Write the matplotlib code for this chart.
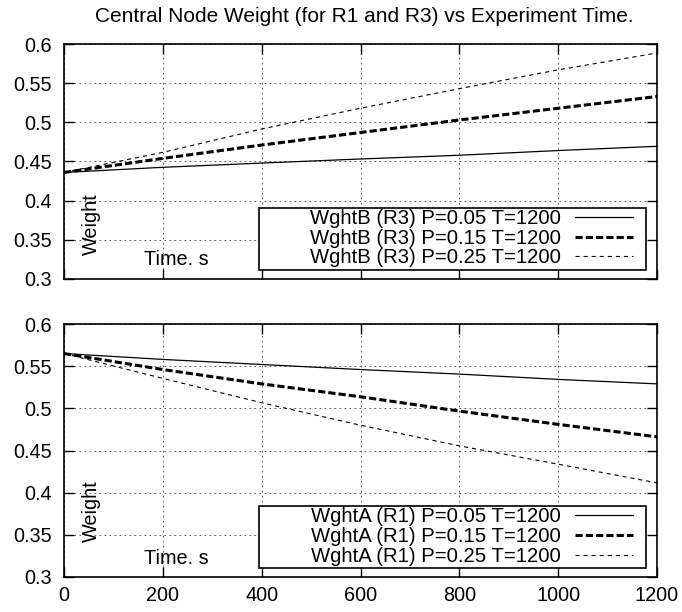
import matplotlib
matplotlib.use("Agg")
import matplotlib.pyplot as plt
from matplotlib.patches import Rectangle
from matplotlib.lines import Line2D

plt.rcParams['font.family'] = ['Liberation Sans', 'DejaVu Sans']
plt.rcParams['lines.scale_dashes'] = False

# data
time_s = [0, 200, 400, 600, 800, 1000, 1200]

wght_b_005 = [0.436, 0.4426, 0.448, 0.4532, 0.458, 0.464, 0.4694]
wght_b_015 = [0.436, 0.454, 0.471, 0.487, 0.503, 0.518, 0.533]
wght_b_025 = [0.436, 0.4617, 0.4915, 0.518, 0.543, 0.567, 0.5885]

wght_a_005 = [0.565, 0.558, 0.552, 0.546, 0.5406, 0.5343, 0.529]
wght_a_015 = [0.565, 0.546, 0.529, 0.5137, 0.4967, 0.481, 0.4662]
wght_a_025 = [0.565, 0.5355, 0.5066, 0.480, 0.4555, 0.4338, 0.4116]

labels_b = ["WghtB (R3) P=0.05 T=1200", "WghtB (R3) P=0.15 T=1200", "WghtB (R3) P=0.25 T=1200"]
labels_a = ["WghtA (R1) P=0.05 T=1200", "WghtA (R1) P=0.15 T=1200", "WghtA (R1) P=0.25 T=1200"]

x_ticks = [0, 200, 400, 600, 800, 1000, 1200]
y_ticks = [0.3, 0.35, 0.4, 0.45, 0.5, 0.55, 0.6]
y_ticklabels = ["0.3", "0.35", "0.4", "0.45", "0.5", "0.55", "0.6"]

FS = 14.3
KEY_FS = 14.6
W, H = 682, 612
AX_W = 593

styles = [
    dict(color="black", linewidth=0.9, linestyle="-"),
    dict(color="black", linewidth=2.2, linestyle=(0, (5.2, 2.2))),
    dict(color="black", linewidth=0.8, linestyle=(0, (3.0, 2.8))),
]


def draw_panel(ax, ax_h, series, labels, show_xlabels, weight_off):
    fx = lambda px: px / AX_W
    fy = lambda py: py / ax_h
    for s, lab, st in zip(series, labels, styles):
        ax.plot(time_s, s, label=lab, **st)
    ax.set_xlim(0, 1200)
    ax.set_ylim(0.3, 0.6)
    ax.set_xticks(x_ticks)
    ax.set_yticks(y_ticks)
    ax.set_yticklabels(y_ticklabels)
    if not show_xlabels:
        ax.set_xticklabels([])
    ax.tick_params(direction="in", length=7, width=1.0, top=True, right=True, labelsize=FS)
    ax.tick_params(axis="y", pad=9.0)
    ax.tick_params(axis="x", pad=6.5)
    ax.grid(True, color="0.35", linewidth=0.7, linestyle=(0, (1.2, 2.4)))
    for sp in ax.spines.values():
        sp.set_linewidth(1.2)
    # in-plot axis captions, gnuplot style
    ax.text(fx(27), fy(weight_off), "Weight", rotation=90, ha="center", va="bottom",
            fontsize=FS, transform=ax.transAxes)
    ax.text(fx(80), fy(13.5), "Time. s", ha="left", va="baseline",
            fontsize=FS, transform=ax.transAxes)
    # key box
    ax.add_patch(Rectangle((fx(195), fy(9)), fx(582 - 195), fy(71) - fy(9),
                           transform=ax.transAxes, facecolor="white", edgecolor="black",
                           linewidth=1.2, zorder=4))
    rows = [55, 35, 15.5]
    for lab, st, r in zip(labels, styles, rows):
        ax.text(fx(AX_W - 96), fy(r), lab, ha="right", va="baseline", fontsize=KEY_FS,
                transform=ax.transAxes, zorder=5)
        ax.add_line(Line2D([fx(AX_W - 82), fx(AX_W - 24)], [fy(r + 7), fy(r + 7)],
                           transform=ax.transAxes, zorder=5, **st))


fig = plt.figure(figsize=(W / 100, H / 100), dpi=100)
ax_top = fig.add_axes([64 / W, 1 - 279 / H, AX_W / W, 235 / H])
ax_bot = fig.add_axes([64 / W, 1 - 577 / H, AX_W / W, 253 / H])

draw_panel(ax_top, 235, [wght_b_005, wght_b_015, wght_b_025], labels_b, False, 24)
draw_panel(ax_bot, 253, [wght_a_005, wght_a_015, wght_a_025], labels_a, True, 35)

fig.text(364 / W, 1 - 21.7 / H, "Central Node Weight (for R1 and R3) vs Experiment Time.",
         ha="center", va="baseline", fontsize=15)

fig.savefig("out.png", dpi=100)
